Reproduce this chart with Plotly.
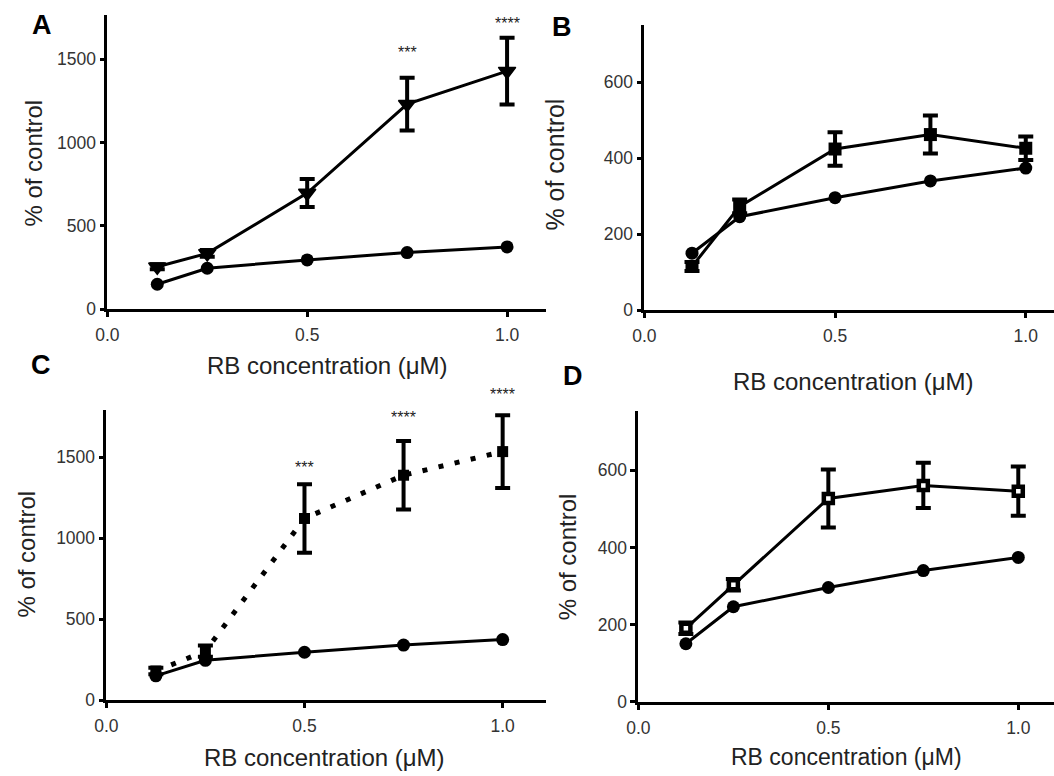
import plotly.graph_objects as go

# ---------------- data ----------------
conc = [0.125, 0.25, 0.5, 0.75, 1.0]
control = [150, 246, 296, 340, 374]

a_vals = [255, 335, 697, 1230, 1428]
a_err = [15, 20, 84, 158, 200]

b_vals = [115, 273, 424, 462, 426]
b_err = [12, 18, 44, 50, 31]

c_vals = [180, 303, 1122, 1389, 1535]
c_err = [20, 35, 212, 212, 225]

d_vals = [190, 303, 527, 561, 546]
d_err = [15, 15, 75, 59, 64]

a_star_x = [0.75, 1.0]
a_star_y = [1537, 1714]
a_star_txt = ["***", "****"]

c_star_x = [0.5, 0.75, 1.0]
c_star_y = [1439, 1748, 1889]
c_star_txt = ["***", "****", "****"]

x_ticks = [0.0, 0.5, 1.0]
x_ticktext = ["0.0", "0.5", "1.0"]
y_ticks_big = [0, 500, 1000, 1500]
y_ticks_small = [0, 200, 400, 600]

x_title = "RB concentration (\u03bcM)"
y_title = "% of control"

FONT = "Arial, Liberation Sans, sans-serif"
W, H = 1054, 776

A_YMAX, B_YMAX, C_YMAX, D_YMAX = 1766, 751, 1794, 755

fig = go.Figure()

def add_control(xa, ya):
    fig.add_trace(go.Scatter(
        x=conc, y=control, xaxis=xa, yaxis=ya, mode="lines+markers",
        line=dict(color="black", width=3),
        marker=dict(symbol="circle", size=13, color="black"),
        showlegend=False, cliponaxis=False))

def add_treat(xa, ya, vals, err, marker, dash="solid", lw=3):
    fig.add_trace(go.Scatter(
        x=conc, y=vals, xaxis=xa, yaxis=ya, mode="lines+markers",
        line=dict(color="black", width=lw, dash=dash),
        marker=marker,
        error_y=dict(type="data", array=err, visible=True, color="black",
                     thickness=4, width=7.5),
        showlegend=False, cliponaxis=False))

# Panel A
add_control("x", "y")
add_treat("x", "y", a_vals, a_err,
          dict(symbol="triangle-down", size=15, color="black",
               line=dict(color="black", width=1.5)))

# Panel B
add_control("x2", "y2")
add_treat("x2", "y2", b_vals, b_err,
          dict(symbol="square", size=13, color="black"))

# Panel C
add_control("x3", "y3")
add_treat("x3", "y3", c_vals, c_err,
          dict(symbol="square", size=11, color="black"),
          dash="5px,11.5px", lw=5)

# Panel D
add_control("x4", "y4")
add_treat("x4", "y4", d_vals, d_err,
          dict(symbol="square", size=9, color="white",
               line=dict(color="black", width=4.5)))

def px_x(p):
    return p / W

def px_y(p):
    return 1 - p / H

tickfont = dict(family=FONT, size=17.5, color="#333")

def xax(dom, rng, anchor, lw):
    return dict(domain=dom, range=rng, anchor=anchor, showline=True,
                linecolor="black", linewidth=lw, ticks="outside", ticklen=5,
                tickwidth=2.5, tickcolor="black", showgrid=False,
                zeroline=False, tickvals=x_ticks, ticktext=x_ticktext,
                tickfont=tickfont, ticklabelstandoff=3, fixedrange=True)

def yax(dom, rng, anchor, tv, lw):
    return dict(domain=dom, range=rng, anchor=anchor, showline=True,
                linecolor="black", linewidth=lw, ticks="outside", ticklen=5,
                tickwidth=2.5, tickcolor="black", showgrid=False,
                zeroline=False, tickvals=tv, tickfont=tickfont,
                fixedrange=True)

layout = dict(
    width=W, height=H, margin=dict(l=0, r=0, t=0, b=0),
    paper_bgcolor="white", plot_bgcolor="white",
    xaxis=xax([px_x(96.4), px_x(540)], [0, 1.097], "y", 2.5),
    yaxis=yax([px_y(313.3), px_y(15)], [0, A_YMAX], "x", y_ticks_big, 2.5),
    xaxis2=xax([px_x(639.6), 1.0], [0, 1.074], "y2", 2.5),
    yaxis2=yax([px_y(314.3), px_y(25)], [0, B_YMAX], "x2", y_ticks_small, 2.5),
    xaxis3=xax([px_x(95.4), px_x(540)], [0, 1.109], "y3", 3),
    yaxis3=yax([px_y(709.3), px_y(415)], [0, C_YMAX], "x3", y_ticks_big, 2.5),
    xaxis4=xax([px_x(633.6), 1.0], [0, 1.094], "y4", 3),
    yaxis4=yax([px_y(710.7), px_y(416)], [0, D_YMAX], "x4", y_ticks_small, 3),
)

annots = []

def stars(xref, yref, ymax, sx, sy, st):
    for xv, yv, t in zip(sx, sy, st):
        annots.append(dict(text=t, x=xv, y=yv / ymax, xref=xref,
                           yref=yref + " domain", showarrow=False,
                           xanchor="center", yanchor="middle",
                           font=dict(family=FONT, size=16, color="#222")))

stars("x", "y", A_YMAX, a_star_x, a_star_y, a_star_txt)
stars("x3", "y3", C_YMAX, c_star_x, c_star_y, c_star_txt)

def letter(t, cx, cy):
    annots.append(dict(text="<b>" + t + "</b>", x=px_x(cx), y=px_y(cy),
                       xref="paper", yref="paper", showarrow=False,
                       xanchor="center", yanchor="middle",
                       font=dict(family=FONT, size=27, color="black")))

def xtitle(cx, cy, size):
    annots.append(dict(text=x_title, x=px_x(cx), y=px_y(cy), xref="paper",
                       yref="paper", showarrow=False, xanchor="center",
                       yanchor="middle",
                       font=dict(family=FONT, size=size, color="#222")))

def ytitle(cx, cy, size):
    annots.append(dict(text=y_title, x=px_x(cx), y=px_y(cy), xref="paper",
                       yref="paper", showarrow=False, xanchor="center",
                       yanchor="middle", textangle=-90,
                       font=dict(family=FONT, size=size, color="#222")))

letter("A", 30, 25)
letter("B", 556, 27)
letter("C", 29, 370)
letter("D", 567, 381)

xtitle(319, 370, 24)
xtitle(851, 386, 24)
xtitle(316, 767, 24)
xtitle(844, 767, 23)

ytitle(22, 165, 24)
ytitle(549, 167, 25)
ytitle(15, 561, 24)
ytitle(562, 564, 24)

layout["annotations"] = annots
fig.update_layout(**layout)

fig.write_html("out.html")
